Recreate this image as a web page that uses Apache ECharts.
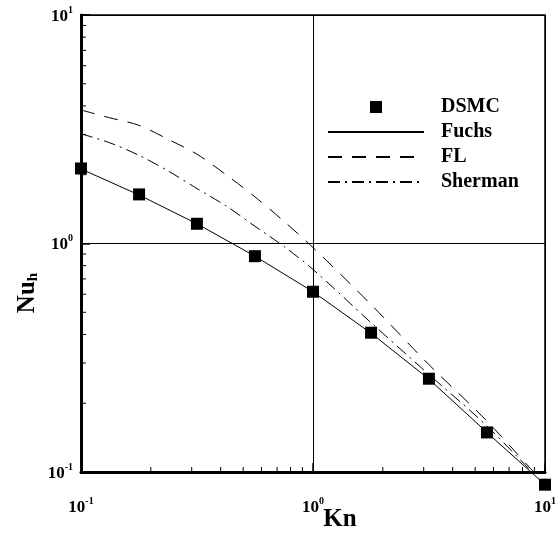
<!DOCTYPE html>
<html>
<head>
<meta charset="utf-8">
<script src="https://cdn.jsdelivr.net/npm/echarts@6/dist/echarts.min.js"></script>
<style>
  html, body { margin: 0; padding: 0; background: #fff; }
  #chart { width: 557px; height: 540px; }
</style>
</head>
<body>
<div id="chart"></div>
<script>
// DSMC points and Fuchs curve (same Kn stations)
const knPoints = [0.1, 0.178, 0.316, 0.562, 1.0, 1.78, 3.16, 5.62, 10]
const dsmc = [2.13, 1.64, 1.22, 0.88, 0.615, 0.407, 0.256, 0.149, 0.088]
const fuchs = [2.12, 1.63, 1.22, 0.88, 0.615, 0.405, 0.255, 0.149, 0.088]

// FL and Sherman curves, read at a finer Kn set
const knCurve = [0.1, 0.133, 0.178, 0.237, 0.316, 0.422, 0.562, 0.75, 1.0, 1.78, 3.16, 5.62, 10]
const fl = [3.84, 3.55, 3.29, 2.86, 2.46, 2.0, 1.6, 1.25, 0.96, 0.54, 0.295, 0.167, 0.088]
const sherman = [3.02, 2.76, 2.43, 2.08, 1.74, 1.46, 1.19, 0.97, 0.77, 0.45, 0.267, 0.159, 0.087]

// minor tick positions on both log axes
const minorTicks = [0.2, 0.3, 0.4, 0.5, 0.6, 0.7, 0.8, 0.9, 2, 3, 4, 5, 6, 7, 8, 9]

const FONT = "'Liberation Serif', 'Times New Roman', serif"

const pair = (xs, ys) => xs.map((x, i) => [x, ys[i]])

const powLabel = v => {
  const e = Math.round(Math.log10(v))
  return '{b|10}{s|' + e + '}'
}

const labelRich = {
  b: { fontFamily: FONT, fontWeight: 'bold', fontSize: 17, color: '#000', lineHeight: 20, verticalAlign: 'bottom' },
  s: { fontFamily: FONT, fontWeight: 'bold', fontSize: 10, color: '#000', lineHeight: 12, verticalAlign: 'top' }
}

const tickRender = (dir) => (params, api) => {
  const p = api.coord([api.value(0), api.value(1)])
  const shape = dir === 'x'
    ? { x1: p[0], y1: p[1], x2: p[0], y2: p[1] - 5 }
    : { x1: p[0], y1: p[1], x2: p[0] + 5, y2: p[1] }
  return { type: 'line', shape, style: { stroke: '#000', lineWidth: 1 } }
}

// line series: hide the legend dot by making the item colour transparent
const lineSeries = (name, xs, ys, dash, extra) => Object.assign({
  name,
  type: 'line',
  symbol: 'none',
  data: pair(xs, ys),
  lineStyle: { color: '#000', width: 1, type: dash },
  itemStyle: { color: 'rgba(0,0,0,0)', borderWidth: 0 }
}, extra)

const chart = echarts.init(document.getElementById('chart'))

chart.setOption({
  animation: false,
  backgroundColor: '#fff',
  grid: {
    left: 81, top: 15, width: 464, height: 457,
    containLabel: false,
    outerBoundsMode: 'none',
    show: true, borderColor: '#000', borderWidth: 1.5
  },
  legend: {
    orient: 'vertical',
    left: 327,
    top: 97,
    padding: 0,
    itemWidth: 96,
    itemHeight: 12,
    itemGap: 5,
    data: [
      { name: 'DSMC', icon: 'path://M0,0H10V10H0Z' },
      'Fuchs', 'FL', 'Sherman'
    ],
    textStyle: {
      fontFamily: FONT, fontWeight: 'bold', fontSize: 20, color: '#000',
      lineHeight: 20, padding: [0, 0, 0, 12]
    }
  },
  xAxis: {
    type: 'log',
    logBase: 10,
    min: 0.1,
    max: 10,
    name: 'Kn',
    nameLocation: 'middle',
    nameGap: 35,
    nameMoveOverlap: false,
    nameTextStyle: {
      fontFamily: FONT, fontWeight: 'bold', fontSize: 25, color: '#000',
      padding: [0, 0, 0, 54]
    },
    axisLine: { lineStyle: { color: '#000', width: 3 } },
    axisTick: { inside: true, length: 9, lineStyle: { color: '#000', width: 1.5 } },
    axisLabel: { margin: 24, formatter: powLabel, rich: labelRich },
    splitLine: { show: true, lineStyle: { color: '#000', width: 1 } }
  },
  yAxis: {
    type: 'log',
    logBase: 10,
    min: 0.1,
    max: 10,
    axisLine: { lineStyle: { color: '#000', width: 3 } },
    axisTick: { inside: true, length: 9, lineStyle: { color: '#000', width: 1.5 } },
    axisLabel: { margin: 8, formatter: powLabel, rich: labelRich },
    splitLine: { show: true, lineStyle: { color: '#000', width: 1 } }
  },
  graphic: [{
    type: 'text',
    x: 28,
    y: 293,
    rotation: Math.PI / 2,
    style: {
      text: '{n|Nu}{h|h}',
      align: 'center',
      verticalAlign: 'middle',
      rich: {
        n: { fontFamily: FONT, fontWeight: 'bold', fontSize: 25, fill: '#000', lineHeight: 26, verticalAlign: 'top' },
        h: { fontFamily: FONT, fontWeight: 'bold', fontSize: 15, fill: '#000', lineHeight: 15, verticalAlign: 'bottom', padding: [11, 0, 0, 0] }
      }
    }
  }],
  series: [
    {
      type: 'custom',
      silent: true,
      renderItem: tickRender('x'),
      data: minorTicks.map(v => [v, 0.1]),
      z: 1
    },
    {
      type: 'custom',
      silent: true,
      renderItem: tickRender('y'),
      data: minorTicks.map(v => [0.1, v]),
      z: 1
    },
    lineSeries('Fuchs', knPoints, fuchs, 'solid', { clip: false }),
    lineSeries('FL', knCurve, fl, [14, 10], { smooth: 0.3 }),
    lineSeries('Sherman', knCurve, sherman, [12, 5, 2, 5], { smooth: 0.3 }),
    {
      name: 'DSMC',
      type: 'scatter',
      symbol: 'rect',
      symbolSize: 12,
      clip: false,
      data: pair(knPoints, dsmc),
      itemStyle: { color: '#000', opacity: 1 },
      z: 5
    }
  ]
})
</script>
</body>
</html>
